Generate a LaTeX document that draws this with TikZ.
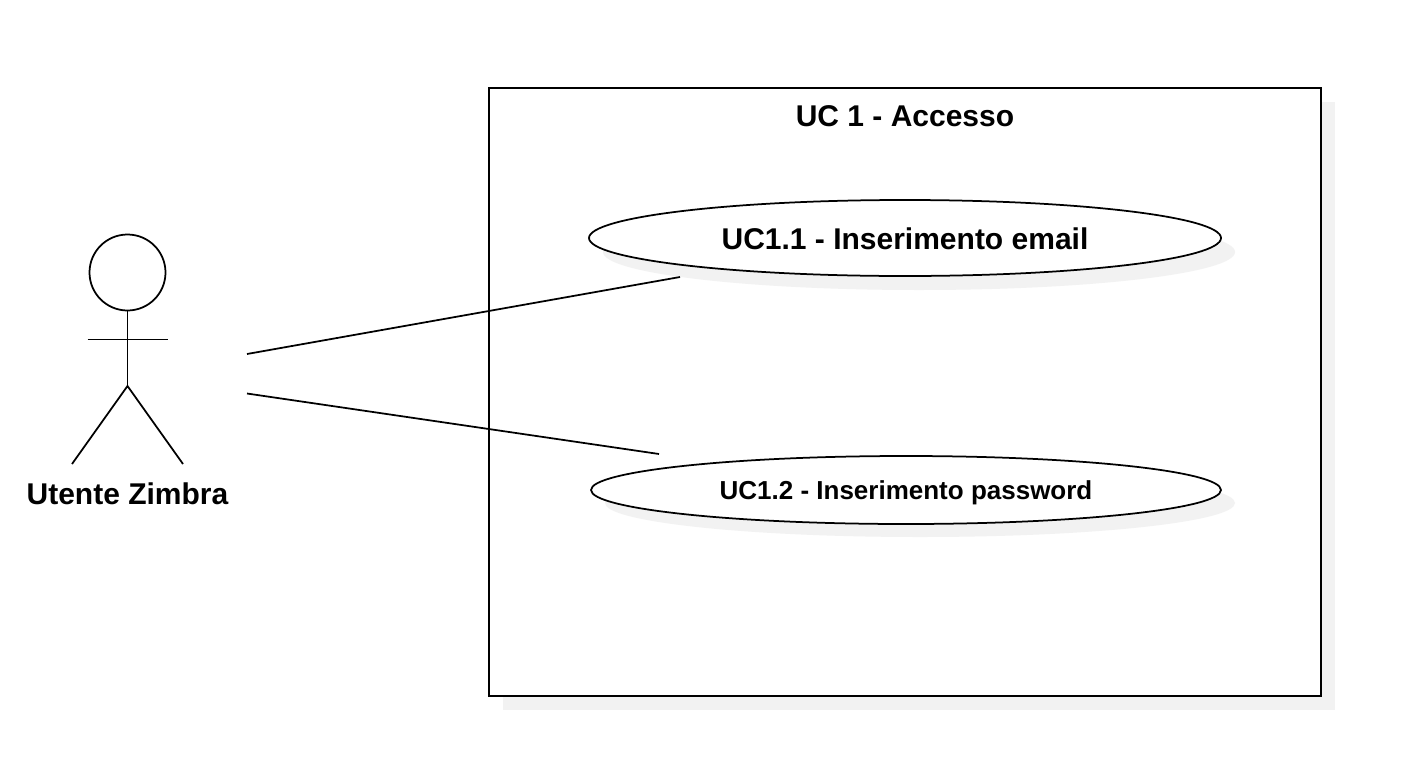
\documentclass[tikz,border=0pt]{standalone}
\usepackage{fontspec}
\setmainfont{Liberation Sans}
\usetikzlibrary{shapes.geometric}
\definecolor{shadowgrey}{HTML}{F2F2F2}
\tikzset{
  x=0.75pt,y=-0.75pt,
  stroke/.style={draw=black,line width=1.75*0.75pt},
  lbl/.style={font=\bfseries,inner sep=0pt,anchor=center},
}
\begin{document}
\begin{tikzpicture}
\useasboundingbox (0,0) rectangle (1408,778);
% system box
\fill[shadowgrey] (503,102) rectangle (1335,710);
\draw[stroke,fill=white] (489,88) rectangle (1321,696);
\node[lbl,font=\bfseries\fontsize{22.5pt}{24pt}\selectfont] (title) at (905,116) {UC 1 - Accesso};
% use cases
\fill[shadowgrey] (919,252) ellipse [x radius=316,y radius=38];
\node[ellipse,stroke,fill=white,inner sep=0pt,minimum width=632*0.75pt,minimum height=76*0.75pt] (uc1) at (905,238) {};
\node[lbl,font=\bfseries\fontsize{22.5pt}{24pt}\selectfont] at (905,238.7) {UC1.1 - Inserimento email};
\fill[shadowgrey] (920,503) ellipse [x radius=315,y radius=34];
\node[ellipse,stroke,fill=white,inner sep=0pt,minimum width=630*0.75pt,minimum height=68*0.75pt] (uc2) at (906,490) {};
\node[lbl,font=\bfseries\fontsize{19.5pt}{22pt}\selectfont] at (906,492.7) {UC1.2 - Inserimento password};
% actor
\node[circle,stroke,fill=white,inner sep=0pt,minimum size=76*0.75pt] (head) at (127.5,272.5) {};
\coordinate (hip) at (127.5,386);
\coordinate (armL) at (87.5,339.5);
\coordinate (armR) at (167.5,339.5);
\coordinate (legL) at (72,464);
\coordinate (legR) at (183,464);
\draw[stroke] (head.south) -- (hip);
\draw[stroke] (armL) -- (armR);
\draw[stroke] (legL) -- (hip) -- (legR);
\node[lbl,font=\bfseries\fontsize{22.5pt}{24pt}\selectfont] (actor) at (127.5,494) {Utente Zimbra};
% connectors
\coordinate (c1a) at (247,354);
\coordinate (c1b) at (680,277);
\coordinate (c2a) at (247,393.5);
\coordinate (c2b) at (659,454);
\draw[stroke] (c1a) -- (c1b);
\draw[stroke] (c2a) -- (c2b);
\end{tikzpicture}
\end{document}
